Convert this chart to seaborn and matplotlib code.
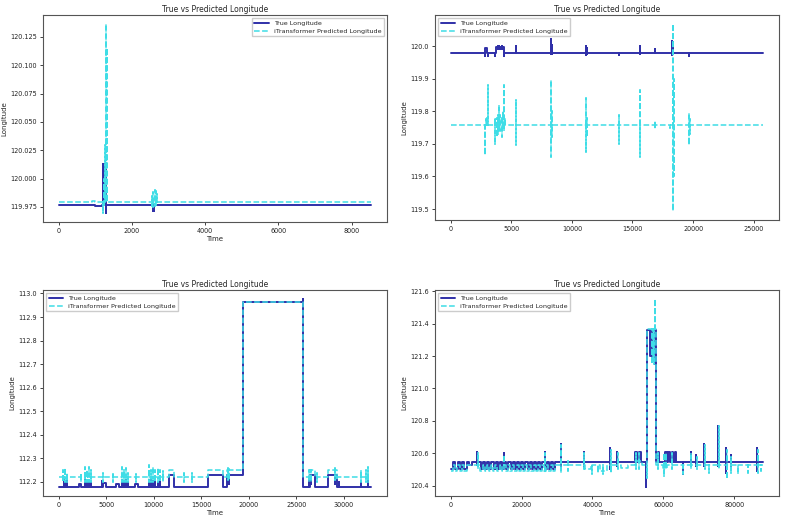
import matplotlib
matplotlib.use("Agg")
import matplotlib.pyplot as plt
import pandas as pd
import seaborn as sns

TITLE = "True vs Predicted Longitude"
LABEL_TRUE = "True Longitude"
LABEL_PRED = "iTransformer Predicted Longitude"
X_LABEL = "Time"
Y_LABEL = "Longitude"

# ---------------- Panel 1 (top-left) ----------------
p1_end = 8540
p1_true_lvl_t = [0, 1000, 1180]
p1_true_lvl_v = [119.977, 119.976, 119.977]
p1_true_spk_t = [1200, 1215, 1230, 1245, 1260, 1275, 1290, 1300, 2570, 2590, 2610]
p1_true_spk_hi = [120.013, 120.013, 120.013, 120.013, 120.013, 120.013, 120.013, 119.977, 119.977, 119.977, 119.977]
p1_true_spk_lo = [119.998, 119.998, 119.998, 119.998, 119.998, 119.998, 119.970, 119.970, 119.971, 119.971, 119.971]

p1_pred_lvl_t = [0, 900, 1000]
p1_pred_lvl_v = [119.979, 119.980, 119.979]
p1_pred_spk_t = [1200, 1230, 1260, 1290, 1310, 1330, 2560, 2590, 2620, 2650, 2680]
p1_pred_spk_hi = [119.979, 120.0, 120.03, 120.136, 120.115, 119.99, 119.985, 119.988, 119.990, 119.989, 119.986]
p1_pred_spk_lo = [119.970, 119.975, 119.979, 119.979, 119.979, 119.979, 119.976, 119.975, 119.976, 119.977, 119.978]

# ---------------- Panel 2 (top-right) ----------------
p2_end = 25800
p2_true_lvl_t = [0, 2830, 3030, 3750, 4400]
p2_true_lvl_v = [119.978, 119.995, 119.978, 119.997, 119.978]
p2_true_spk_t = [2800, 3060, 3700, 3900, 4000, 4100, 4200, 4300, 4430, 5400, 8300, 8330, 8360,
                 11200, 11220, 13850, 15600, 15620, 16900, 18250, 18280, 18310, 18340, 19700]
p2_true_spk_hi = [119.978, 119.978, 119.978, 120.0, 119.999, 119.998, 119.999, 119.997, 119.978, 120.0,
                  120.022, 120.005, 119.998, 120.0, 119.995, 119.978, 120.0, 119.995, 119.99,
                  120.01, 120.015, 120.012, 119.99, 119.978]
p2_true_spk_lo = [119.970, 119.970, 119.970, 119.992, 119.992, 119.991, 119.992, 119.990, 119.970, 119.978,
                  119.975, 119.975, 119.978, 119.972, 119.975, 119.972, 119.975, 119.978, 119.978,
                  119.975, 119.972, 119.975, 119.978, 119.970]

p2_pred_lvl_t = [0, 3650, 4350]
p2_pred_lvl_v = [119.759, 119.775, 119.759]
p2_pred_spk_t = [2800, 2900, 3000, 3050, 3700, 3800, 3900, 4000, 4100, 4200, 4300, 4400, 4450,
                 5400, 5420, 8300, 8330, 8360, 11200, 11230, 13900, 13920, 15600, 15620, 16900,
                 18100, 18380, 18420, 19650, 19700, 19730]
p2_pred_spk_hi = [119.759, 119.775, 119.78, 119.88, 119.78, 119.78, 119.79, 119.82, 119.79, 119.78,
                  119.80, 119.88, 119.78, 119.835, 119.78, 119.895, 119.80, 119.78, 119.84, 119.78,
                  119.79, 119.775, 119.865, 119.79, 119.77, 119.759, 120.067, 119.90, 119.79,
                  119.795, 119.775]
p2_pred_spk_lo = [119.665, 119.759, 119.759, 119.759, 119.70, 119.72, 119.73, 119.75, 119.74, 119.72,
                  119.75, 119.74, 119.759, 119.698, 119.74, 119.66, 119.72, 119.74, 119.675, 119.72,
                  119.70, 119.73, 119.66, 119.72, 119.745, 119.748, 119.495, 119.60, 119.698,
                  119.70, 119.73]

# ---------------- Panel 3 (bottom-left) ----------------
p3_end = 32870
p3_true_lvl_t = [0, 2100, 2400, 4700, 5000, 6000, 6300, 8000, 8300, 11600, 12100, 15700, 17300,
                 17700, 19330, 25700, 26400, 26900, 28300, 29300]
p3_true_lvl_v = [112.18, 112.19, 112.18, 112.195, 112.18, 112.19, 112.18, 112.19, 112.18, 112.23,
                 112.18, 112.23, 112.18, 112.23, 112.965, 112.18, 112.23, 112.18, 112.23, 112.18]
p3_true_spk_t = [600, 750, 900, 2800, 3000, 3200, 3400, 4600, 6700, 6900, 7100, 7300, 9500, 9700,
                 9900, 10100, 10400, 10700, 17800, 17950, 25650, 26300, 26500, 29100, 29300, 29500,
                 31800, 32500]
p3_true_spk_hi = [112.21, 112.205, 112.21, 112.21, 112.205, 112.21, 112.2, 112.205, 112.21, 112.205,
                  112.21, 112.2, 112.21, 112.21, 112.205, 112.21, 112.2, 112.21, 112.23, 112.23,
                  112.975, 112.21, 112.2, 112.21, 112.205, 112.2, 112.2, 112.21]
p3_true_spk_lo = [112.18, 112.18, 112.18, 112.18, 112.18, 112.18, 112.18, 112.18, 112.18, 112.18,
                  112.18, 112.18, 112.18, 112.18, 112.18, 112.18, 112.18, 112.18, 112.19, 112.19,
                  112.965, 112.18, 112.19, 112.19, 112.19, 112.18, 112.18, 112.18]

p3_pred_lvl_t = [0, 11600, 12100, 15700, 17300, 17700, 19330, 25700, 26400, 26900, 28300, 29300]
p3_pred_lvl_v = [112.22, 112.25, 112.22, 112.25, 112.22, 112.25, 112.962, 112.22, 112.25, 112.22,
                 112.25, 112.22]
p3_pred_spk_t = [500, 700, 900, 2300, 2800, 3000, 3200, 3400, 4700, 5700, 6700, 6900, 7100, 7300,
                 8100, 9500, 9700, 9900, 10100, 10400, 10700, 11000, 13200, 14000, 17800, 17950,
                 26300, 26500, 27200, 29100, 29300, 31800, 32300, 32500]
p3_pred_spk_hi = [112.25, 112.26, 112.24, 112.24, 112.265, 112.25, 112.265, 112.25, 112.24, 112.235,
                  112.265, 112.25, 112.26, 112.24, 112.235, 112.27, 112.25, 112.265, 112.25, 112.26,
                  112.25, 112.245, 112.24, 112.24, 112.26, 112.255, 112.25, 112.24, 112.24, 112.26,
                  112.25, 112.25, 112.25, 112.265]
p3_pred_spk_lo = [112.2, 112.2, 112.2, 112.2, 112.2, 112.2, 112.2, 112.2, 112.2, 112.2,
                  112.2, 112.2, 112.2, 112.2, 112.2, 112.2, 112.2, 112.2, 112.2, 112.2,
                  112.2, 112.2, 112.2, 112.2, 112.21, 112.21, 112.2, 112.2, 112.2, 112.21,
                  112.21, 112.2, 112.2, 112.2]

# ---------------- Panel 4 (bottom-right) ----------------
p4_end = 88200
p4_true_lvl_t = [0, 700, 1300, 2000, 2600, 3300, 3900, 4600, 5200, 6000,
                 8500, 9100, 9700, 10300, 10900, 11500, 12100, 12700, 13300, 13900, 14500, 15100,
                 15700, 16300, 16900, 17500, 18100, 18700, 19300, 19900, 20500, 21100, 21700,
                 22300, 22900, 23500, 24100, 24700, 25300, 25900, 26500, 27100, 27700, 28300,
                 28900, 29500,
                 52000, 52500, 53000, 53600, 55400, 56300, 56700, 57800, 58400, 58900, 60500,
                 61000, 61300, 61900, 62300, 62800, 63200, 63700]
p4_true_lvl_v = [120.505, 120.545, 120.505, 120.545, 120.505, 120.545, 120.505, 120.545, 120.53, 120.545,
                 120.505, 120.545, 120.505, 120.545, 120.505, 120.545, 120.505, 120.545, 120.505,
                 120.545, 120.505, 120.545, 120.505, 120.545, 120.505, 120.545, 120.505, 120.545,
                 120.505, 120.545, 120.505, 120.545, 120.505, 120.545, 120.505, 120.545, 120.505,
                 120.545, 120.505, 120.545, 120.505, 120.545, 120.505, 120.545, 120.505, 120.545,
                 120.61, 120.545, 120.61, 120.545, 121.36, 121.2, 121.36, 120.545, 120.61, 120.545,
                 120.61, 120.545, 120.61, 120.545, 120.61, 120.545, 120.61, 120.545]
p4_true_spk_t = [7500, 15000, 26500, 31000, 37500, 45000, 47000, 55200, 57500, 65500, 67800, 69300,
                 71500, 75500, 77800, 79000, 86500]
p4_true_spk_hi = [120.61, 120.60, 120.61, 120.66, 120.61, 120.63, 120.61, 120.545, 121.37, 120.545,
                  120.61, 120.59, 120.66, 120.77, 120.63, 120.59, 120.63]
p4_true_spk_lo = [120.53, 120.50, 120.50, 120.50, 120.52, 120.50, 120.52, 120.394, 121.15, 120.47,
                  120.52, 120.52, 120.52, 120.52, 120.48, 120.50, 120.49]

p4_pred_lvl_t = [0, 600, 1200, 1900, 2500, 3200, 3800, 4500,
                 8400, 9000, 9600, 10200, 10800, 11400, 12000, 12600, 13200, 13800, 14400, 15000,
                 15600, 16200, 16800, 17400, 18000, 18600, 19200, 19800, 20400, 21000, 21600,
                 22200, 22800, 23400, 24000, 24600, 25200, 25800, 26400, 27000, 27600, 28200,
                 28800, 29400,
                 38000, 39500, 42000, 44000, 48000, 50000, 52000, 54000, 55400, 57800, 60000,
                 61000, 66000]
p4_pred_lvl_v = [120.49, 120.53, 120.49, 120.53, 120.49, 120.53, 120.49, 120.525,
                 120.49, 120.53, 120.49, 120.53, 120.49, 120.53, 120.49, 120.53, 120.49, 120.53,
                 120.49, 120.53, 120.49, 120.53, 120.49, 120.53, 120.49, 120.53, 120.49, 120.53,
                 120.49, 120.53, 120.49, 120.53, 120.49, 120.53, 120.49, 120.53, 120.49, 120.53,
                 120.49, 120.53, 120.49, 120.53, 120.49, 120.525,
                 120.50, 120.525, 120.49, 120.525, 120.51, 120.525, 120.55, 120.525, 121.37,
                 120.53, 120.50, 120.53, 120.525]
p4_pred_spk_t = [7600, 15100, 26600, 31100, 33000, 37600, 40000, 41500, 43000, 45100, 47100, 52300,
                 53200, 55300, 56900, 57100, 57300, 57550, 58500, 60300, 60800, 62500, 65600,
                 67900, 69400, 71600, 73000, 75600, 77900, 79100, 81000, 84000, 86600, 87500]
p4_pred_spk_hi = [120.6, 120.59, 120.6, 120.65, 120.55, 120.6, 120.53, 120.53, 120.53, 120.62,
                  120.6, 120.6, 120.6, 120.55, 121.36, 121.37, 121.36, 121.55, 120.6, 120.6,
                  120.6, 120.6, 120.525, 120.6, 120.58, 120.65, 120.53, 120.77, 120.62, 120.58,
                  120.53, 120.53, 120.62, 120.53]
p4_pred_spk_lo = [120.5, 120.49, 120.48, 120.48, 120.49, 120.5, 120.47, 120.48, 120.47, 120.48,
                  120.5, 120.5, 120.5, 120.45, 121.15, 121.17, 121.15, 121.37, 120.5, 120.46,
                  120.5, 120.5, 120.47, 120.5, 120.5, 120.5, 120.48, 120.5, 120.44, 120.48,
                  120.47, 120.48, 120.48, 120.49]

COLOR_TRUE = "#3030a8"
COLOR_PRED = "#3fdde6"


def build_path(lvl_t, lvl_v, spk_t, spk_hi, spk_lo, t_end):
    """Combine step levels and vertical excursions into one ordered path."""
    events = [(t, 0, i) for i, t in enumerate(lvl_t) if i > 0]
    events += [(t, 1, j) for j, t in enumerate(spk_t)]
    events.sort()
    cur = lvl_v[0]
    xs, ys = [lvl_t[0]], [cur]
    for t, kind, idx in events:
        if kind == 0:
            xs += [t, t]
            ys += [cur, lvl_v[idx]]
            cur = lvl_v[idx]
        else:
            xs += [t, t, t, t]
            ys += [cur, spk_hi[idx], spk_lo[idx], cur]
    xs.append(t_end)
    ys.append(cur)
    return pd.DataFrame({"Time": xs, "Longitude": ys})


panels = [
    dict(end=p1_end,
         true=(p1_true_lvl_t, p1_true_lvl_v, p1_true_spk_t, p1_true_spk_hi, p1_true_spk_lo),
         pred=(p1_pred_lvl_t, p1_pred_lvl_v, p1_pred_spk_t, p1_pred_spk_hi, p1_pred_spk_lo),
         rect=[43 / 785, 1 - 222 / 519, 344 / 785, 207 / 519], loc="upper right", xlabel=True),
    dict(end=p2_end,
         true=(p2_true_lvl_t, p2_true_lvl_v, p2_true_spk_t, p2_true_spk_hi, p2_true_spk_lo),
         pred=(p2_pred_lvl_t, p2_pred_lvl_v, p2_pred_spk_t, p2_pred_spk_hi, p2_pred_spk_lo),
         rect=[435 / 785, 1 - 220 / 519, 344 / 785, 205 / 519], loc="upper left", xlabel=False),
    dict(end=p3_end,
         true=(p3_true_lvl_t, p3_true_lvl_v, p3_true_spk_t, p3_true_spk_hi, p3_true_spk_lo),
         pred=(p3_pred_lvl_t, p3_pred_lvl_v, p3_pred_spk_t, p3_pred_spk_hi, p3_pred_spk_lo),
         rect=[43 / 785, 1 - 496 / 519, 344 / 785, 206 / 519], loc="upper left", xlabel=True),
    dict(end=p4_end,
         true=(p4_true_lvl_t, p4_true_lvl_v, p4_true_spk_t, p4_true_spk_hi, p4_true_spk_lo),
         pred=(p4_pred_lvl_t, p4_pred_lvl_v, p4_pred_spk_t, p4_pred_spk_hi, p4_pred_spk_lo),
         rect=[435 / 785, 1 - 496 / 519, 344 / 785, 206 / 519], loc="upper left", xlabel=True),
]

sns.set_style("ticks")
plt.rcParams["font.family"] = ["DejaVu Sans"]

fig = plt.figure(figsize=(7.85, 5.19), dpi=100)
fig.patch.set_facecolor("white")

for p in panels:
    ax = fig.add_axes(p["rect"])
    df_true = build_path(*p["true"], p["end"])
    df_pred = build_path(*p["pred"], p["end"])
    sns.lineplot(data=df_true, x="Time", y="Longitude", sort=False, estimator=None,
                 color=COLOR_TRUE, lw=1.4, ax=ax, label=LABEL_TRUE)
    sns.lineplot(data=df_pred, x="Time", y="Longitude", sort=False, estimator=None,
                 color=COLOR_PRED, lw=1.1, linestyle="--", ax=ax, label=LABEL_PRED)
    ax.set_title(TITLE, fontsize=5.5, pad=2)
    ax.set_ylabel(Y_LABEL, fontsize=5, labelpad=2)
    ax.set_xlabel(X_LABEL if p["xlabel"] else "", fontsize=5, labelpad=1)
    ax.tick_params(labelsize=4.7, length=2.5, width=0.6, pad=2, colors="#222222")
    for s in ax.spines.values():
        s.set_visible(True)
        s.set_color("#555555")
        s.set_linewidth(0.8)
    ax.legend(loc=p["loc"], fontsize=4.6, frameon=True, framealpha=1.0, edgecolor="#cccccc",
              handlelength=2.2, borderpad=0.4, labelspacing=0.35, fancybox=False)

fig.savefig("out.png", dpi=100, facecolor="white")
